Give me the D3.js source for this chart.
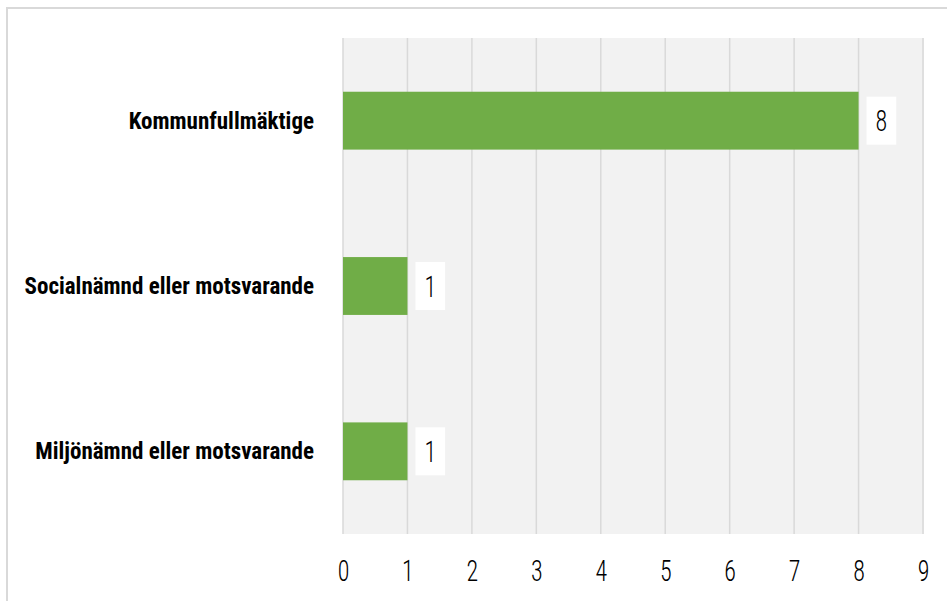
<!DOCTYPE html>
<html><head><meta charset="utf-8">
<script src="https://cdn.jsdelivr.net/npm/d3@7"></script>
<style>
html,body{margin:0;padding:0;background:#fff;}
svg{display:block;}
.cat{font-family:"Roboto Condensed","Liberation Sans Narrow","DejaVu Sans Condensed",sans-serif;font-weight:bold;font-size:23px;fill:#000;}
.num{font-family:"Roboto Condensed","Liberation Sans Narrow","DejaVu Sans Condensed",sans-serif;font-weight:300;fill:#000;}
</style></head>
<body>
<script>
const categories = ["Kommunfullmäktige", "Socialnämnd eller motsvarande", "Miljönämnd eller motsvarande"];
const values = [8, 1, 1];
const xTicks = [0, 1, 2, 3, 4, 5, 6, 7, 8, 9];

const W = 947, H = 601;
const svg = d3.select("body").append("svg").attr("width", W).attr("height", H);

// outer border
svg.append("rect").attr("x", 7).attr("y", 8).attr("width", W + 10).attr("height", H + 10)
  .attr("fill", "#fff").attr("stroke", "#d9d9d9").attr("stroke-width", 2);

const plot = {left: 343, right: 923, top: 38, bottom: 534};
const x = d3.scaleLinear().domain([0, 9]).range([plot.left, plot.right]);
const y = d3.scaleBand().domain(categories).range([plot.top, plot.bottom]).paddingInner(0.65).paddingOuter(0.325);

svg.append("rect").attr("x", plot.left).attr("y", plot.top)
  .attr("width", plot.right - plot.left + 1).attr("height", plot.bottom - plot.top).attr("fill", "#f2f2f2");

svg.append("g").selectAll("line").data(xTicks).join("line")
  .attr("x1", d => x(d)).attr("x2", d => x(d)).attr("y1", plot.top).attr("y2", plot.bottom)
  .attr("stroke", "#d9d9d9").attr("stroke-width", 1.5);

svg.append("g").selectAll("rect").data(values).join("rect")
  .attr("x", x(0)).attr("y", (d, i) => y(categories[i]))
  .attr("width", d => x(d) - x(0)).attr("height", y.bandwidth())
  .attr("fill", "#70ad47");

const SX = 0.8; // horizontal compression for the thin condensed digits

// value labels with white boxes
const lab = svg.append("g").selectAll("g").data(values).join("g")
  .attr("transform", (d, i) => `translate(${x(d) + 8},${y(categories[i]) + y.bandwidth() / 2})`);
const boxes = lab.append("rect").attr("x", 0).attr("y", -24).attr("height", 48).attr("fill", "#fff");
const vt = lab.append("text").attr("class", "num").attr("font-size", 30)
  .attr("text-anchor", "middle").attr("dy", "0.36em").text(d => d);
vt.each(function () {
  const w = this.getComputedTextLength() * SX;
  const bw = w + 18;
  d3.select(this).attr("transform", `translate(${bw / 2},0) scale(${SX},1)`);
  d3.select(this.parentNode).select("rect").attr("width", bw);
});

// category labels
svg.append("g").selectAll("text").data(categories).join("text")
  .attr("class", "cat").attr("x", 314).attr("y", d => y(d) + y.bandwidth() / 2)
  .attr("dy", "0.35em").attr("text-anchor", "end").text(d => d);

// x axis tick labels
const xAxis = d3.axisBottom(x).tickValues(xTicks).tickSize(0).tickPadding(0);
const ax = svg.append("g").attr("transform", `translate(0,570)`).call(xAxis);
ax.select(".domain").remove();
ax.selectAll("text").attr("class", "num").attr("font-size", 30).attr("y", 0).attr("dy", "0.36em")
  .attr("fill", "#000").attr("transform", `scale(${SX},1)`);
</script>
</body></html>
